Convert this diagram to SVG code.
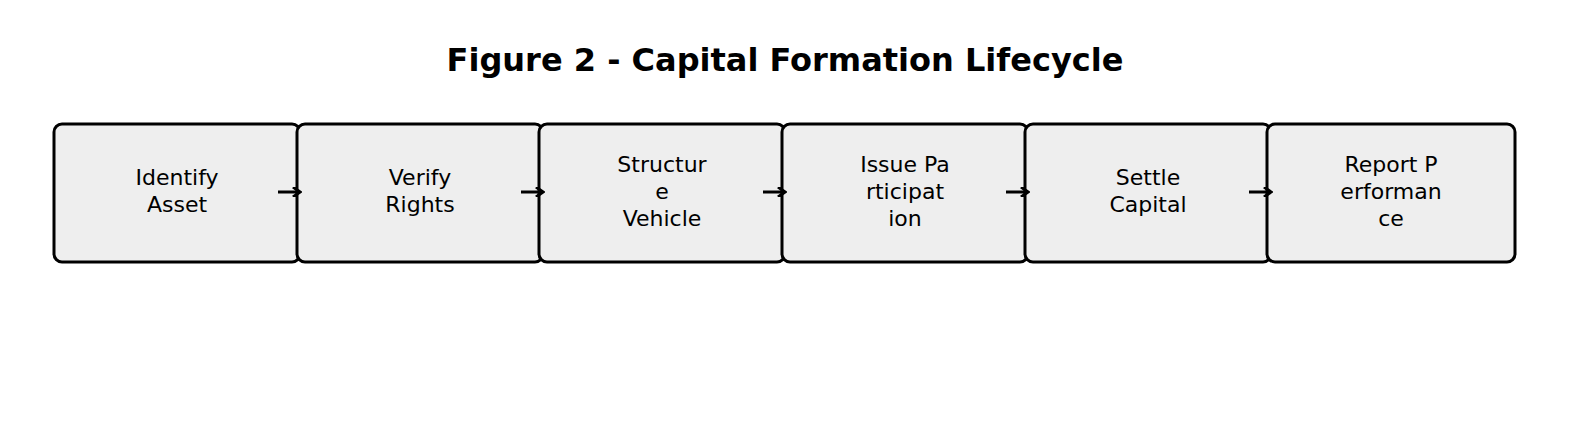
<svg xmlns="http://www.w3.org/2000/svg" width="1578" height="425" viewBox="0 0 1578 425">
<style>
.b{fill:#eeeeee;stroke:#000;stroke-width:3}
.t{font-family:"DejaVu Sans",sans-serif;font-size:22px;text-anchor:middle;fill:#000}
.a{stroke:#000;stroke-width:3;fill:none}
</style>
<defs><marker id="h" markerWidth="10" markerHeight="10" refX="8" refY="5" orient="auto" markerUnits="userSpaceOnUse"><path d="M1,0 L8,5 L1,10" fill="none" stroke="#000" stroke-width="3"/></marker></defs>
<rect width="1578" height="425" fill="#fff"/>
<text x="785" y="71" style="font-family:'DejaVu Sans',sans-serif;font-size:32px;font-weight:bold;text-anchor:middle">Figure 2 - Capital Formation Lifecycle</text>
<g id="n1"><rect class="b" x="54" y="124" width="246" height="138" rx="8"/><text class="t"><tspan x="177" y="185">Identify</tspan><tspan x="177" y="212">Asset</tspan></text></g>
<g id="n2"><rect class="b" x="297" y="124" width="246" height="138" rx="8"/><text class="t"><tspan x="420" y="185">Verify</tspan><tspan x="420" y="212">Rights</tspan></text></g>
<g id="n3"><rect class="b" x="539" y="124" width="246" height="138" rx="8"/><text class="t"><tspan x="662" y="172">Structur</tspan><tspan x="662" y="199">e</tspan><tspan x="662" y="226">Vehicle</tspan></text></g>
<g id="n4"><rect class="b" x="782" y="124" width="246" height="138" rx="8"/><text class="t"><tspan x="905" y="172">Issue Pa</tspan><tspan x="905" y="199">rticipat</tspan><tspan x="905" y="226">ion</tspan></text></g>
<g id="n5"><rect class="b" x="1025" y="124" width="246" height="138" rx="8"/><text class="t"><tspan x="1148" y="185">Settle</tspan><tspan x="1148" y="212">Capital</tspan></text></g>
<g id="n6"><rect class="b" x="1267" y="124" width="248" height="138" rx="8"/><text class="t"><tspan x="1391" y="172">Report P</tspan><tspan x="1391" y="199">erforman</tspan><tspan x="1391" y="226">ce</tspan></text></g>
<g id="edges">
<line class="a" x1="278" y1="192" x2="300" y2="192" marker-end="url(#h)"/>
<line class="a" x1="521" y1="192" x2="543" y2="192" marker-end="url(#h)"/>
<line class="a" x1="763" y1="192" x2="785" y2="192" marker-end="url(#h)"/>
<line class="a" x1="1006" y1="192" x2="1028" y2="192" marker-end="url(#h)"/>
<line class="a" x1="1249" y1="192" x2="1271" y2="192" marker-end="url(#h)"/>
</g>
</svg>
